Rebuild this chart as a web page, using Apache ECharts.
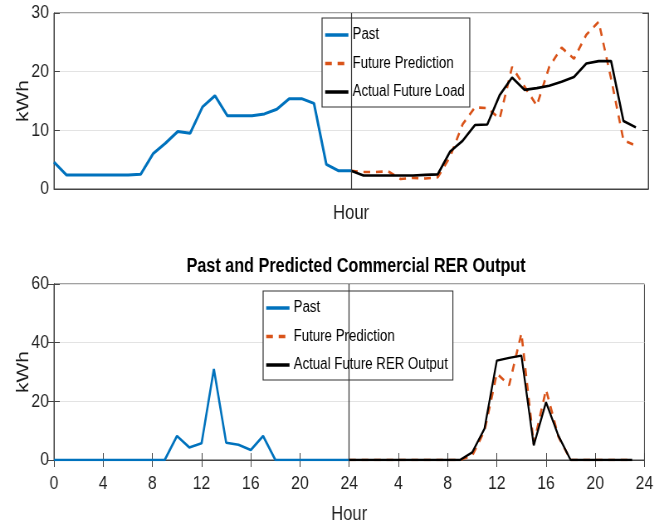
<!DOCTYPE html>
<html>
<head>
<meta charset="utf-8">
<script src="https://cdn.jsdelivr.net/npm/echarts@6/dist/echarts.min.js"></script>
<style>
  html, body { margin: 0; padding: 0; background: #fff; overflow: hidden; }
  /* the original figure is horizontally squeezed, so draw wider and squeeze */
  #chart { width: 790px; height: 527px; transform: scaleX(0.83); transform-origin: 0 0; }
</style>
</head>
<body>
<div id="chart"></div>
<script>
// hours 0..24 (past) and 24..47 (future), values in kWh
var pastLoad = [4.6, 2.4, 2.4, 2.4, 2.4, 2.4, 2.4, 2.5, 6.0, 7.8, 9.8, 9.5, 14.0, 15.9, 12.5, 12.5, 12.5, 12.8, 13.6, 15.4, 15.4, 14.6, 4.2, 3.1, 3.1];
var predLoad = [3.1, 2.9, 2.9, 3.0, 1.7, 1.9, 1.8, 2.0, 5.5, 11.0, 13.9, 13.8, 12.0, 20.8, 17.5, 14.2, 20.8, 24.1, 22.2, 26.3, 28.5, 18.8, 8.3, 7.4];
var actualLoad = [3.1, 2.3, 2.3, 2.3, 2.3, 2.3, 2.4, 2.5, 6.4, 8.2, 10.9, 11.0, 16.0, 19.0, 16.9, 17.2, 17.6, 18.3, 19.1, 21.4, 21.8, 21.8, 11.6, 10.5];

var pastRer = [0, 0, 0, 0, 0, 0, 0, 0, 0, 0, 8.2, 4.3, 5.7, 31.0, 5.9, 5.2, 3.4, 8.2, 0, 0, 0, 0, 0, 0, 0];
var predRer = [0, 0, 0, 0, 0, 0, 0, 0, 0, 0, 1.5, 10.0, 29.5, 25.5, 43.2, 5.5, 24.0, 8.0, 0, 0, 0, 0, 0, 0];
var actualRer = [0, 0, 0, 0, 0, 0, 0, 0, 0, 0, 2.6, 10.7, 33.9, 34.8, 35.6, 5.0, 19.7, 8.3, 0, 0, 0, 0, 0, 0];

var hourTicks = ['0', '4', '8', '12', '16', '20', '24', '4', '8', '12', '16', '20', '24'];
var topTicks = ['0', '10', '20', '30'];
var bottomTicks = ['0', '20', '40', '60'];

var font = "'Liberation Sans', Arial, Helvetica, sans-serif";
var txt = '#1f1f1f';
var blue = '#0072BD';
var orange = '#D95319';

function pairs(values, start) {
    return values.map(function (v, i) { return [start + i, v]; });
}

var chart = echarts.init(document.getElementById('chart'));

function yAxisDef(grid, max, interval, ticks, right) {
    return {
        type: 'value',
        gridIndex: grid,
        min: 0,
        max: max,
        interval: interval,
        position: right ? 'right' : 'left',
        name: right ? '' : 'kWh',
        nameLocation: 'middle',
        nameGap: 26,
        nameMoveOverlap: false,
        nameTextStyle: { fontFamily: font, fontSize: 21, color: txt },
        axisLine: { show: true, lineStyle: { color: '#444', width: 1 } },
        axisTick: { show: true, inside: true, length: 7, lineStyle: { color: '#444' } },
        axisLabel: {
            show: !right,
            margin: 6,
            fontFamily: font,
            fontSize: 19,
            color: txt,
            formatter: function (v) { return ticks[Math.round(v / interval)]; }
        },
        splitLine: { show: !right, lineStyle: { color: '#e3e3e3', width: 1 } }
    };
}

var sepLine = {
    silent: true,
    symbol: 'none',
    label: { show: false },
    lineStyle: { color: '#333', width: 1.2, type: 'solid' },
    data: [{ xAxis: 24 }]
};

function legendDef(left, top, names) {
    return {
        left: left,
        top: top,
        orient: 'vertical',
        data: names,
        backgroundColor: '#fff',
        borderColor: '#333',
        borderWidth: 1.2,
        padding: [9, 6, 7, 2],
        itemWidth: 28,
        itemHeight: 10,
        itemGap: 12.5,
        itemStyle: { opacity: 0 },
        lineStyle: { width: 3.5 },
        textStyle: { fontFamily: font, fontSize: 16, color: '#000' }
    };
}

var option = {
    animation: false,
    backgroundColor: '#fff',
    title: {
        text: 'Past and Predicted Commercial RER Output',
        left: 424,
        top: 252,
        textAlign: 'center',
        textStyle: { fontFamily: font, fontSize: 19.5, fontWeight: 'bold', color: '#000' }
    },
    legend: [
        legendDef(388, 18, ['Past', 'Future Prediction', 'Actual Future Load']),
        legendDef(317, 291, ['Past', 'Future Prediction', 'Actual Future RER Output'])
    ],
    grid: [
        { left: 65, top: 13, width: 716, height: 176, show: true, borderColor: '#444', borderWidth: 1 },
        { left: 65, top: 284, width: 716, height: 176, show: true, borderColor: '#444', borderWidth: 1 }
    ],
    xAxis: [
        {
            type: 'value',
            gridIndex: 0,
            min: 0,
            max: 48,
            name: 'Hour',
            nameLocation: 'middle',
            nameGap: 14,
            nameTextStyle: { fontFamily: font, fontSize: 20, color: txt, verticalAlign: 'top' },
            axisLine: { show: true, lineStyle: { color: '#444' } },
            axisTick: { show: false },
            axisLabel: { show: false },
            splitLine: { show: false }
        },
        {
            type: 'value',
            gridIndex: 1,
            min: 0,
            max: 48,
            interval: 4,
            name: 'Hour',
            nameLocation: 'middle',
            nameGap: 44,
            nameTextStyle: { fontFamily: font, fontSize: 20, color: txt, verticalAlign: 'top' },
            axisLine: { show: true, lineStyle: { color: '#444' } },
            axisTick: { show: true, inside: true, length: 7, lineStyle: { color: '#444' } },
            axisLabel: {
                margin: 14,
                fontFamily: font,
                fontSize: 19,
                color: txt,
                formatter: function (v) { return hourTicks[Math.round(v / 4)]; }
            },
            splitLine: { show: false }
        },
        {
            type: 'value',
            gridIndex: 1,
            position: 'top',
            min: 0,
            max: 48,
            interval: 4,
            axisLine: { show: true, lineStyle: { color: '#444' } },
            axisTick: { show: true, inside: true, length: 7, lineStyle: { color: '#444' } },
            axisLabel: { show: false },
            splitLine: { show: false }
        }
    ],
    yAxis: [
        yAxisDef(0, 30, 10, topTicks, false),
        yAxisDef(0, 30, 10, topTicks, true),
        yAxisDef(1, 60, 20, bottomTicks, false),
        yAxisDef(1, 60, 20, bottomTicks, true)
    ],
    series: [
        {
            name: 'Past',
            type: 'line',
            xAxisIndex: 0,
            yAxisIndex: 0,
            data: pairs(pastLoad, 0),
            symbol: 'none',
            color: blue,
            lineStyle: { color: blue, width: 3 },
            markLine: sepLine
        },
        {
            name: 'Future Prediction',
            type: 'line',
            xAxisIndex: 0,
            yAxisIndex: 0,
            data: pairs(predLoad, 24),
            symbol: 'none',
            color: orange,
            lineStyle: { color: orange, width: 2.6, type: [8, 7] }
        },
        {
            name: 'Actual Future Load',
            type: 'line',
            xAxisIndex: 0,
            yAxisIndex: 0,
            data: pairs(actualLoad, 24),
            symbol: 'none',
            color: '#000',
            lineStyle: { color: '#000', width: 2.6 }
        },
        {
            name: 'Past',
            type: 'line',
            xAxisIndex: 1,
            yAxisIndex: 2,
            data: pairs(pastRer, 0),
            symbol: 'none',
            color: blue,
            lineStyle: { color: blue, width: 2.6 },
            markLine: sepLine
        },
        {
            name: 'Future Prediction',
            type: 'line',
            xAxisIndex: 1,
            yAxisIndex: 2,
            data: pairs(predRer, 24),
            symbol: 'none',
            color: orange,
            lineStyle: { color: orange, width: 2.6, type: [8, 7] }
        },
        {
            name: 'Actual Future RER Output',
            type: 'line',
            xAxisIndex: 1,
            yAxisIndex: 2,
            data: pairs(actualRer, 24),
            symbol: 'none',
            color: '#000',
            lineStyle: { color: '#000', width: 2.3 }
        }
    ]
};

chart.setOption(option);
window.addEventListener('resize', function () {
    chart.resize();
});
</script>
</body>
</html>
